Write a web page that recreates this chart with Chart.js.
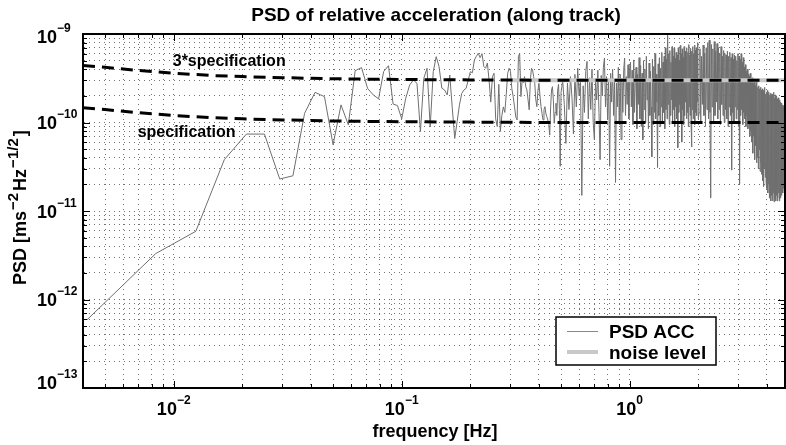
<!DOCTYPE html>
<html>
<head>
<meta charset="utf-8">
<script src="https://cdn.jsdelivr.net/npm/chart.js@4"></script>
<style>
  html, body { margin: 0; padding: 0; background: #fff; }
</style>
</head>
<body>
<canvas id="psdChart" width="786" height="445"></canvas>
<script>
// frequency resolution of the spectrum [Hz]
var df = 1 / 240;

// PSD ACC, in units of 1e-12 m s^-2 Hz^-1/2
// f = 1*df ... 120*df  (up to 0.5 Hz)
var psdLow = [
  0.59, 3.3, 5.9, 38, 74, 74, 23, 25, 127, 219,
  196, 56, 158, 94, 385, 417, 243, 205, 185, 377,
  438, 162, 155, 110, 188, 265, 302, 277, 79, 316,
  410, 89, 375, 555, 427, 244, 233, 205, 344, 145,
  66, 102, 158, 213, 233, 244, 302, 375, 365, 508,
  560, 605, 540, 600, 430, 410, 470, 300, 170, 330,
  360, 110, 90, 270, 79, 120, 150, 130, 210, 360,
  410, 380, 240, 196, 150, 115, 107, 560, 600, 196,
  300, 280, 330, 254, 233, 180, 139, 300, 410, 392,
  330, 277, 180, 151, 230, 277, 200, 151, 127, 107,
  140, 151, 125, 116, 107, 95, 72, 150, 233, 254,
  180, 98, 130, 165, 120, 233, 270, 140, 32, 220
];
// f = 0.5 + 2*df*i, i = 1..60  (0.5 - 1 Hz)
var psdMid = [
  300, 160, 58, 280, 140, 330, 190, 74, 350, 150,
  410, 200, 300, 15, 260, 130, 380, 490, 110, 320,
  140, 400, 100, 64, 300, 180, 390, 130, 38, 340,
  200, 420, 535, 150, 330, 110, 300, 32, 360, 170,
  400, 120, 310, 21, 280, 150, 420, 100, 350, 64,
  300, 130, 400, 535, 120, 330, 160, 450, 110, 380
];
// f = 1 + 2*df*i, i = 1..120  (1 - 2 Hz)
var psdHigh1 = [
  480, 150, 390, 95, 510, 130, 300, 420, 85, 350,
  160, 540, 110, 440, 90, 360, 64, 500, 140, 400,
  100, 560, 180, 310, 85, 470, 120, 380, 150, 41,
  520, 95, 430, 130, 600, 110, 350, 170, 31, 460,
  120, 540, 90, 410, 150, 620, 100, 480, 130, 560,
  85, 700, 140, 520, 110, 970, 160, 600, 95, 650,
  120, 480, 180, 720, 100, 560, 140, 690, 90, 530,
  150, 620, 110, 580, 52, 700, 130, 500, 160, 740,
  100, 600, 60, 680, 140, 550, 95, 720, 120, 640,
  170, 560, 110, 700, 130, 620, 90, 760, 150, 580,
  120, 690, 100, 53, 640, 140, 720, 110, 600, 160,
  750, 95, 650, 130, 700, 120, 580, 170, 800, 110
];
// f = 2 + 4*df*j, j = 1..168  (2 - 4.8 Hz)
var psdHigh2 = [
  130, 680, 100, 560, 160, 750, 120, 610, 90, 700, 140, 800,
  110, 850, 130, 14, 760, 150, 680, 100, 820, 120, 640, 170,
  780, 110, 700, 140, 600, 95, 720, 160, 560, 120, 650, 100,
  600, 140, 580, 110, 640, 90, 560, 150, 620, 120, 540, 29,
  600, 130, 520, 100, 580, 150, 560, 110, 500, 140, 600, 90,
  560, 20, 520, 120, 600, 140, 480, 95, 540, 130, 420, 110,
  450, 90, 380, 120, 400, 85, 350, 100, 330, 70, 360, 80,
  300, 60, 320, 45, 280, 70, 290, 38, 260, 55, 300, 35,
  270, 40, 250, 30, 260, 50, 240, 28, 250, 35, 230, 26,
  240, 22, 230, 19, 220, 30, 250, 24, 210, 21, 220, 18,
  230, 16, 210, 20, 220, 14, 200, 17, 215, 13, 205, 15,
  210, 13, 200, 16, 220, 12.7, 190, 14, 205, 13, 195, 15,
  200, 13, 185, 14, 190, 16, 175, 13, 180, 15, 170, 14,
  165, 15, 160, 17, 158, 16, 150, 18, 155, 17, 145, 19
];

// requirement curves (same units)
var specFreq = [0.004, 0.005, 0.007, 0.01, 0.015, 0.02, 0.03, 0.05, 0.07, 0.1, 0.2, 0.5, 1, 2, 4.8];
var spec = [147, 140, 129, 120, 113, 110, 107, 104, 103, 102, 101, 100, 100, 100, 100];
var spec3 = [441, 420, 387, 360, 339, 330, 321, 312, 309, 306, 303, 300, 300, 300, 300];

var noiseFreq = [0.3, 4.8];
var noise = [300, 300];

// decade tick labels (exponents)
var xTickExp = [-2, -1, 0];
var yTickExp = [-9, -10, -11, -12, -13];

var UNIT = 1e-12;
var FONT = '"Liberation Sans", Arial, Helvetica, sans-serif';

function pts(f, v) {
  return f.map(function (x, i) { return { x: x, y: v[i] * UNIT }; });
}

var psdPts = [];
psdLow.forEach(function (v, i) { psdPts.push({ x: (i + 1) * df, y: v * UNIT }); });
psdMid.forEach(function (v, i) { psdPts.push({ x: 0.5 + (i + 1) * 2 * df, y: v * UNIT }); });
psdHigh1.forEach(function (v, i) { psdPts.push({ x: 1 + (i + 1) * 2 * df, y: v * UNIT }); });
psdHigh2.forEach(function (v, i) { psdPts.push({ x: 2 + (i + 1) * 4 * df, y: v * UNIT }); });

// grid at 1..9 x 10^n like matlab
function logTicks(scale) {
  var t = [];
  for (var e = -14; e <= 1; e++) {
    for (var m = 1; m < 10; m++) {
      var v = m * Math.pow(10, e);
      if (v >= scale.min * 0.999 && v <= scale.max * 1.001) t.push({ value: v, major: m === 1 });
    }
  }
  scale.ticks = t;
}

function partsWidth(ctx, parts) {
  var w = 0;
  parts.forEach(function (p) {
    ctx.font = 'bold ' + p.size + 'px ' + FONT;
    w += ctx.measureText(p.t).width + (p.gap || 0);
  });
  return w;
}
function drawParts(ctx, parts, x, y) {
  parts.forEach(function (p) {
    ctx.font = 'bold ' + p.size + 'px ' + FONT;
    ctx.fillText(p.t, x, y - (p.rise || 0));
    x += ctx.measureText(p.t).width + (p.gap || 0);
  });
}
function powParts(e) {
  return [{ t: '10', size: 18 }, { t: (e < 0 ? '\u2212' : '') + Math.abs(e), size: 12, rise: 11 }];
}

var decor = {
  id: 'decor',
  afterDraw: function (chart) {
    var ctx = chart.ctx, a = chart.chartArea;
    var xs = chart.scales.x, ys = chart.scales.y;
    ctx.save();

    // top / right edges of the box
    ctx.strokeStyle = '#000';
    ctx.lineWidth = 2;
    ctx.beginPath();
    ctx.moveTo(a.left, a.top);
    ctx.lineTo(a.right, a.top);
    ctx.lineTo(a.right, a.bottom);
    ctx.stroke();

    // inward ticks on all sides
    ctx.lineWidth = 1;
    ctx.beginPath();
    xs.ticks.forEach(function (t) {
      var px = Math.round(xs.getPixelForValue(t.value)) + 0.5;
      var len = t.major ? 7 : 4;
      ctx.moveTo(px, a.bottom); ctx.lineTo(px, a.bottom - len);
      ctx.moveTo(px, a.top); ctx.lineTo(px, a.top + len);
    });
    ys.ticks.forEach(function (t) {
      var py = Math.round(ys.getPixelForValue(t.value)) + 0.5;
      var len = t.major ? 7 : 4;
      ctx.moveTo(a.left, py); ctx.lineTo(a.left + len, py);
      ctx.moveTo(a.right, py); ctx.lineTo(a.right - len, py);
    });
    ctx.stroke();

    ctx.fillStyle = '#000';
    ctx.textBaseline = 'alphabetic';
    ctx.textAlign = 'left';

    // tick labels
    xTickExp.forEach(function (e) {
      var parts = powParts(e);
      var px = xs.getPixelForValue(Math.pow(10, e));
      drawParts(ctx, parts, px - partsWidth(ctx, parts) / 2, a.bottom + 27);
    });
    yTickExp.forEach(function (e, i) {
      var py = ys.getPixelForValue(Math.pow(10, e));
      if (i === 0) py += 2;
      if (i === yTickExp.length - 1) py -= 6;
      drawParts(ctx, powParts(e), 37, py + 6.5);
    });

    // title and axis labels
    ctx.font = 'bold 19px ' + FONT;
    ctx.textAlign = 'center';
    ctx.fillText('PSD of relative acceleration (along track)', 436, 21);
    ctx.font = 'bold 18px ' + FONT;
    ctx.fillText('frequency [Hz]', 435, 437);
    ctx.textAlign = 'left';

    var yl = [
      { t: 'PSD [ms', size: 18, gap: 1 }, { t: '\u22122', size: 15, rise: 8, gap: 2 },
      { t: 'Hz', size: 18, gap: 1 }, { t: '\u22121/2', size: 15, rise: 8, gap: 2 }, { t: ']', size: 18 }
    ];
    ctx.save();
    ctx.translate(26, 285);
    ctx.rotate(-Math.PI / 2);
    drawParts(ctx, yl, 0, 0);
    ctx.restore();

    // curve annotations
    ctx.font = 'bold 16px ' + FONT;
    ctx.fillText('3*specification', xs.getPixelForValue(0.0099), ys.getPixelForValue(4.36e-10));
    ctx.fillText('specification', xs.getPixelForValue(0.00695), ys.getPixelForValue(6.85e-11));

    // legend box
    var lx = 556, ly = 317, lw = 160, lh = 48;
    ctx.fillStyle = '#fff';
    ctx.fillRect(lx, ly, lw, lh);
    ctx.strokeStyle = '#000';
    ctx.lineWidth = 1.5;
    ctx.strokeRect(lx, ly, lw, lh);
    ctx.lineWidth = 1;
    ctx.strokeStyle = '#888';
    ctx.beginPath(); ctx.moveTo(567, 331.5); ctx.lineTo(598, 331.5); ctx.stroke();
    ctx.lineWidth = 4;
    ctx.strokeStyle = '#c8c8c8';
    ctx.beginPath(); ctx.moveTo(567, 352); ctx.lineTo(598, 352); ctx.stroke();
    ctx.fillStyle = '#000';
    ctx.font = 'bold 19px ' + FONT;
    ctx.fillText('PSD ACC', 609, 338);
    ctx.fillText('noise level', 609, 359);

    ctx.restore();
  }
};

var gridOpts = { color: 'rgba(0,0,0,0.55)', lineWidth: 1, drawTicks: false };
var borderOpts = { display: true, color: '#000', width: 2, dash: [1, 4] };

new Chart(document.getElementById('psdChart').getContext('2d'), {
  type: 'line',
  data: {
    datasets: [
      { label: '3*specification', data: pts(specFreq, spec3), borderColor: '#000', borderWidth: 3, borderDash: [12, 7], order: 1 },
      { label: 'specification', data: pts(specFreq, spec), borderColor: '#000', borderWidth: 3, borderDash: [12, 7], order: 1 },
      { label: 'noise level', data: pts(noiseFreq, noise), borderColor: '#c8c8c8', borderWidth: 4, order: 2 },
      { label: 'PSD ACC', data: psdPts, borderColor: '#6f6f6f', borderWidth: 1, order: 3 }
    ]
  },
  options: {
    responsive: false,
    animation: false,
    events: [],
    layout: { padding: { left: 0, right: 1, top: 34, bottom: 0 } },
    elements: { point: { radius: 0 }, line: { tension: 0, fill: false } },
    plugins: { legend: { display: false }, tooltip: { enabled: false } },
    scales: {
      x: {
        type: 'logarithmic', min: 0.004, max: 4.8,
        ticks: { display: false },
        grid: gridOpts, border: borderOpts,
        afterBuildTicks: logTicks,
        afterFit: function (s) { s.height = 57; }
      },
      y: {
        type: 'logarithmic', min: 1e-13, max: 1e-9,
        ticks: { display: false },
        grid: gridOpts, border: borderOpts,
        afterBuildTicks: logTicks,
        afterFit: function (s) { s.width = 83; }
      }
    }
  },
  plugins: [decor]
});
</script>
</body>
</html>
